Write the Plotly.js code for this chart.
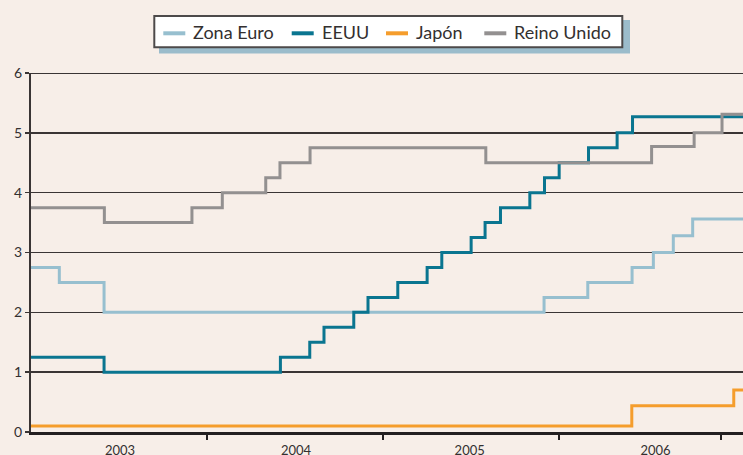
<!DOCTYPE html>
<html>
<head>
<meta charset="utf-8">
<script src="https://cdn.plot.ly/plotly-3.0.1.min.js"></script>
<style>
  html, body { margin: 0; padding: 0; background: #f7eee8; }
  #chart { width: 743px; height: 455px; }
</style>
</head>
<body>
<div id="chart"></div>
<script>
// x positions: months since January 2003, as read on the chart's axis
const seriesNames = ['Zona Euro', 'EEUU', 'Japón', 'Reino Unido'];
const seriesColors = ['#97bfcf', '#0a7590', '#f59d2c', '#939090'];

const xZonaEuro = [0, 1.93, 4.98, 34.97, 37.95, 40.97, 42.42, 43.78, 45.1, 49];
const yZonaEuro = [2.75, 2.5, 2.0, 2.25, 2.5, 2.75, 3.0, 3.28, 3.56, 3.56];

const xEEUU = [0, 4.98, 17, 19, 19.97, 22, 22.97, 25, 27, 28, 30, 30.95, 32, 34, 35, 36, 38, 39.95, 41, 49];
const yEEUU = [1.25, 1.0, 1.25, 1.5, 1.75, 2.0, 2.25, 2.5, 2.75, 3.0, 3.25, 3.5, 3.75, 4.0, 4.25, 4.5, 4.75, 5.0, 5.27, 5.27];

const xJapon = [0, 40.95, 47.9, 49];
const yJapon = [0.1, 0.44, 0.7, 0.7];

const xReinoUnido = [0, 5.0, 10.97, 13.04, 16.0, 16.97, 19.02, 31.0, 42.3, 45.2, 47.1, 49];
const yReinoUnido = [3.75, 3.5, 3.75, 4.0, 4.25, 4.5, 4.75, 4.5, 4.77, 5.0, 5.31, 5.31];

const yearTickVals = [12, 24, 36, 47.03];
const yearLabelVals = [6.07, 18.06, 29.9, 42.57];
const yearLabels = ['2003', '2004', '2005', '2006'];

const xs = [xZonaEuro, xEEUU, xJapon, xReinoUnido];
const ys = [yZonaEuro, yEEUU, yJapon, yReinoUnido];

const traces = seriesNames.map((n, i) => ({
  type: 'scatter', mode: 'lines', name: n,
  x: xs[i], y: ys[i],
  line: { shape: 'hv', color: seriesColors[i], width: 3 },
  xaxis: 'x', yaxis: 'y', showlegend: false, hoverinfo: 'skip'
}));

// layout geometry helpers (pixel -> paper)
const L = 31, R = 743, T = 73, B = 432;
const px = v => (v - L) / (R - L);
const py = v => (B - v) / (B - T);

const shapes = [
  { type: 'line', xref: 'paper', yref: 'y', x0: 0, x1: 1, y0: 6, y1: 6,
    line: { color: '#3a3434', width: 2 }, layer: 'below' },
  { type: 'rect', xref: 'paper', yref: 'paper', x0: px(159), x1: px(630), y0: py(53.5), y1: py(20),
    fillcolor: '#9bbccb', line: { width: 0 }, layer: 'above' },
  { type: 'rect', xref: 'paper', yref: 'paper', x0: px(154.3), x1: px(622.3), y0: py(47.3), y1: py(16),
    fillcolor: '#ffffff', line: { width: 2, color: '#4d4a4a' }, layer: 'above' }
];
const annotations = [];
const sampleStarts = [163.3, 291.7, 386, 484.3];
const textStarts = [190.5, 320, 414, 511.5];
seriesNames.forEach((n, i) => {
  shapes.push({ type: 'line', xref: 'paper', yref: 'paper', x0: px(sampleStarts[i]), x1: px(sampleStarts[i] + 22),
    y0: py(33.3), y1: py(33.3), line: { color: seriesColors[i], width: 4 }, layer: 'above' });
  annotations.push({ xref: 'paper', yref: 'paper', x: px(textStarts[i]), y: py(32.5), xanchor: 'left', yanchor: 'middle',
    text: n, showarrow: false, font: { family: 'Lato, sans-serif', size: 18, color: '#333030' } });
});

const layout = {
  width: 743, height: 455,
  margin: { l: L, r: 743 - R, t: T, b: 455 - B },
  paper_bgcolor: '#f7eee8', plot_bgcolor: '#f7eee8',
  showlegend: false,
  xaxis: {
    range: [0, 48.53], showgrid: false, zeroline: false,
    showline: true, linecolor: '#231f20', linewidth: 3,
    tickmode: 'array', tickvals: yearTickVals, ticktext: yearTickVals.map(() => ''),
    ticks: 'outside', ticklen: 5, tickwidth: 2, tickcolor: '#231f20', showticklabels: false
  },
  xaxis2: {
    overlaying: 'x', anchor: 'y', side: 'bottom', range: [0, 48.53],
    showgrid: false, zeroline: false, showline: false, ticks: '',
    tickmode: 'array', tickvals: yearLabelVals, ticktext: yearLabels, ticklabelstandoff: 9,
    tickfont: { family: 'Lato, sans-serif', size: 13, color: '#333030' }
  },
  yaxis: {
    range: [0, 6.0], showgrid: true, gridcolor: '#3a3434', gridwidth: 1.5,
    zeroline: false, showline: true, linecolor: '#3a3434', linewidth: 2,
    tickmode: 'array', tickvals: [0, 1, 2, 3, 4, 5, 6],
    ticks: 'outside', ticklen: 4, tickwidth: 1.5, tickcolor: '#3a3434',
    tickfont: { family: 'Lato, sans-serif', size: 14, color: '#333030' }
  },
  shapes: shapes,
  annotations: annotations
};

// empty trace to activate xaxis2 labels
traces.push({ type: 'scatter', mode: 'lines', x: [0], y: [0], xaxis: 'x2', yaxis: 'y', showlegend: false, hoverinfo: 'skip', line: { width: 0 } });

Plotly.newPlot('chart', traces, layout, { displayModeBar: false, staticPlot: true });
</script>
</body>
</html>
